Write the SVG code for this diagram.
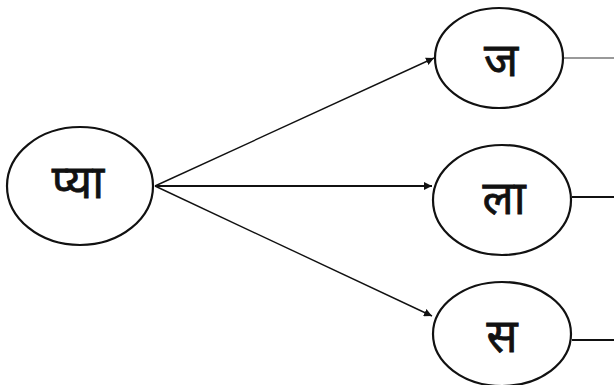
<svg xmlns="http://www.w3.org/2000/svg" width="614" height="385" viewBox="0 0 614 385">
<style>
.n{fill:#fff;stroke:#111;stroke-width:2.2}
.t{font-family:"Noto Sans","Noto Sans Devanagari",sans-serif;font-size:46px;font-weight:normal;fill:#111;stroke:#111;stroke-width:0.8;text-anchor:middle;dominant-baseline:central}
.c{stroke:#111;fill:none}
</style>
<defs>
<marker id="ah2" viewBox="0 0 10 10" refX="10" refY="5" markerWidth="8" markerHeight="8" orient="auto" markerUnits="userSpaceOnUse"><path d="M0,0L10,5L0,10z" fill="#111"/></marker>
</defs>
<rect width="614" height="385" fill="#fff"/>
<g id="connectors">
<line class="c" x1="155" y1="186" x2="434" y2="58" stroke-width="1.4" marker-end="url(#ah2)"/>
<line class="c" x1="155" y1="186" x2="432" y2="186" stroke-width="2.2" marker-end="url(#ah2)"/>
<line class="c" x1="155" y1="186" x2="432" y2="316" stroke-width="1.4" marker-end="url(#ah2)"/>
<line x1="563" y1="58" x2="614" y2="58" stroke="#999" stroke-width="2"/>
<line class="c" x1="572" y1="197" x2="614" y2="197" stroke-width="2"/>
<line class="c" x1="572" y1="340" x2="614" y2="340" stroke-width="2"/>
</g>
<g id="n-pya"><ellipse class="n" cx="80" cy="186" rx="73" ry="59"/><text class="t" x="78" y="180">प्या</text></g>
<g id="n-ja"><ellipse class="n" cx="499" cy="58" rx="64" ry="50"/><text class="t" x="501" y="58">ज</text></g>
<g id="n-la"><ellipse class="n" cx="502" cy="200" rx="69" ry="55"/><text class="t" x="504" y="196">ला</text></g>
<g id="n-sa"><ellipse class="n" cx="502" cy="334" rx="69" ry="52"/><text class="t" x="502" y="334">स</text></g>
</svg>
